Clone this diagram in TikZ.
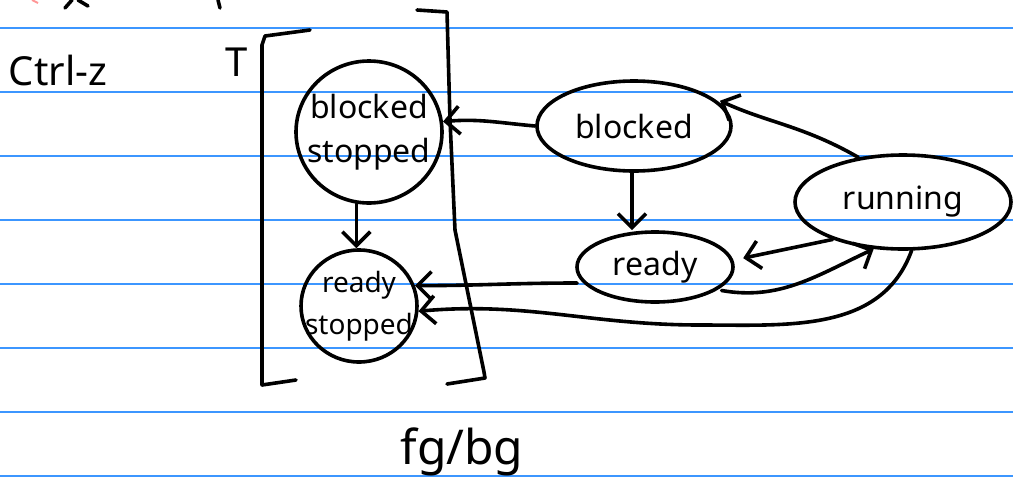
\documentclass[tikz,border=0pt]{standalone}
\usepackage{fontspec}
\setmainfont{Noto Sans}
\usetikzlibrary{arrows.meta,shapes.geometric}
\definecolor{ruled}{RGB}{60,150,255}
\definecolor{pinkink}{RGB}{255,150,150}
\tikzset{
  ink/.style={line width=3.6pt, line cap=round, line join=round, black},
  state/.style={ellipse, draw, ink, inner sep=0pt},
  statetext/.style={font=\fontsize{32}{44}\selectfont, align=center, inner sep=0pt},
  arr/.style={ink, -{Straight Barb[length=14pt,width=28pt]}},
  handlabel/.style={font=\fontsize{40}{46}\selectfont, inner sep=0pt}
}
\begin{document}
\begin{tikzpicture}[x=1pt,y=-1pt]
\useasboundingbox (0,0) rectangle (1013,491);
\fill[white] (0,0) rectangle (1013,491);
% ruled lines
\foreach \yy in {28,92,156,220,284,348,412,476}
  \draw[ruled, line width=1.4pt] (0,\yy) -- (1013,\yy);
% partial strokes at the top edge
\draw[pinkink, line width=2pt] (32,0) -- (38,3);
\draw[ink] (65,8) -- (72,0);
\draw[ink] (78,0) -- (88,6);
\draw[ink] (218,0) -- (220,8);
% labels
\node[handlabel] (ctrl) at (58,70) {Ctrl-z};
\node[handlabel] (tee) at (237,62) {T};
\node[handlabel, font=\fontsize{48}{54}\selectfont] (fgbg) at (462,452) {fg/bg};
% brackets
\draw[ink] (310,30) -- (265,36) -- (262,45) -- (262,385) -- (296,380);
\draw[ink] (417,10) -- (447,12) -- (450,120) -- (455,230) -- (484,372) -- (485,378) -- (447,384);
% states
\node[state, minimum width=146pt, minimum height=142pt] (bs) at (369,132) {};
\node[state, minimum width=116pt, minimum height=112pt] (rs) at (359,306) {};
\node[state, minimum width=194pt, minimum height=90pt] (bk) at (634,126) {};
\node[state, minimum width=156pt, minimum height=70pt] (rd) at (655,267) {};
\node[state, minimum width=216pt, minimum height=94pt] (rn) at (903,202) {};
\node[statetext] (bst) at (bs) {blocked\\stopped};
\node[statetext, font=\fontsize{28}{42}\selectfont] (rst) at (rs) {ready\\stopped};
\node[statetext] (bkt) at (bk) {blocked};
\node[statetext] (rdt) at (rd) {ready};
\node[statetext] (rnt) at (rn) {running};
% transitions
\draw[arr] (bk.west) to[out=175,in=5] (bs.8);
\draw[arr] (bk.south) ++(-2,0) coordinate (bks) -- (bks |- rd.north);
\draw[arr, shorten >=12pt] (rn.135) to[out=150,in=-25] (bk.22);
\draw[arr, shorten >=10pt] (rn.208) -- (rd.5);
\draw[arr, shorten <=4pt] (rd.-20) to[out=-10,in=205] (rn.238);
\draw[arr] (rd.west) ++(2,16) coordinate (rdw) to[out=180,in=0] (rs.20);
\draw[arr] (rn.-80) to[out=250,in=0] (700,325) to[out=180,in=5] (rs.-5);
\draw[arr] (bs.-100) -- (bs.-100 |- rs.north);
\end{tikzpicture}
\end{document}
